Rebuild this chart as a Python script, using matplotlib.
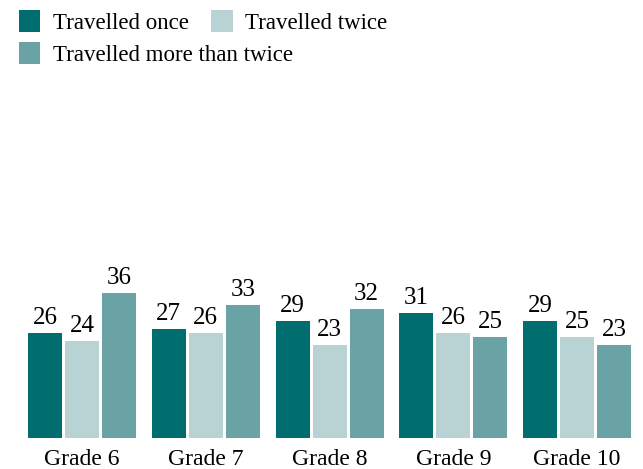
import matplotlib
matplotlib.use('Agg')
import matplotlib.pyplot as plt
import numpy as np

plt.rcParams['font.family'] = ['Liberation Serif', 'DejaVu Serif']

grades = ['Grade 6', 'Grade 7', 'Grade 8', 'Grade 9', 'Grade 10']
once = [26, 27, 29, 31, 29]
twice = [24, 26, 23, 26, 25]
more = [36, 33, 32, 25, 23]

c_once = '#006d6f'
c_twice = '#b9d2d3'
c_more = '#6aa3a6'

W, H = 643, 469
fig = plt.figure(figsize=(W / 100, H / 100), dpi=100)

# axes placed in pixel terms: baseline at y=438, ~4.03 px per unit
px_unit = 4.03
ax_top = 80
ax_bot = 438
ax = fig.add_axes([0, (H - ax_bot) / H, 1, (ax_bot - ax_top) / H])
ax.set_ylim(0, (ax_bot - ax_top) / px_unit)

pitch = 123.75
ax.set_xlim(-82 / pitch, (W - 82) / pitch)

x = np.arange(len(grades))
w = 34 / pitch
step = 37 / pitch

series = [(once, c_once, 'Travelled once'),
          (twice, c_twice, 'Travelled twice'),
          (more, c_more, 'Travelled more than twice')]
bars = []
for i, (vals, col, lab) in enumerate(series):
    b = ax.bar(x + (i - 1) * step, vals, width=w, color=col, label=lab)
    bars.append(b)
    for rect, v in zip(b, vals):
        ax.annotate(str(v), (rect.get_x() + rect.get_width() / 2, rect.get_height()),
                    xytext=(0, 3), textcoords='offset points',
                    ha='center', va='bottom', fontsize=18)

ax.set_xticks(x)
ax.set_xticklabels(grades, fontsize=17)
ax.tick_params(axis='x', length=0, pad=8)
ax.set_yticks([])
for s in ax.spines.values():
    s.set_visible(False)

leg_kw = dict(frameon=False, fontsize=16.5, handlelength=0.92, handleheight=1.1,
              handletextpad=0.55, columnspacing=1.0, borderpad=0, borderaxespad=0)
leg1 = fig.legend([bars[0], bars[1]], ['Travelled once', 'Travelled twice'],
                  loc='upper left', bbox_to_anchor=(19 / W, 1 - 10 / H), ncol=2, **leg_kw)
leg2 = fig.legend([bars[2]], ['Travelled more than twice'],
                  loc='upper left', bbox_to_anchor=(19 / W, 1 - 42 / H), **leg_kw)

fig.savefig('out.png', dpi=100)
